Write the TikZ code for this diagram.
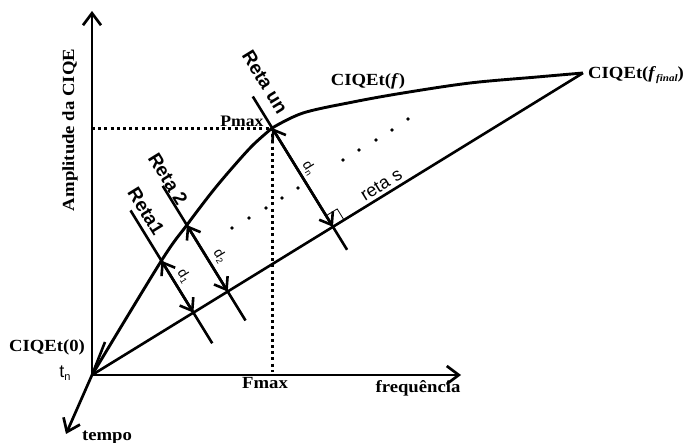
\documentclass[tikz,border=0pt]{standalone}
\usepackage{fontspec}
\setmainfont{Liberation Serif}[FakeStretch=1.1]
\setsansfont{Liberation Sans}
\usetikzlibrary{arrows.meta,calc}
\begin{document}
\begin{tikzpicture}[x=1pt,y=-1pt,
  axisline/.style={line width=2.7pt,-{Straight Barb[length=12pt,width=18pt]}},
  curveline/.style={line width=2.9pt,line join=round},
  retaline/.style={line width=2.6pt},
  dimarrow/.style={line width=2.6pt,{Straight Barb[length=11pt,width=16pt]}-{Straight Barb[length=11pt,width=16pt]}},
  guideline/.style={line width=3pt,dash pattern=on 3pt off 3.2pt},
  serlbl/.style={font=\fontsize{17}{20}\selectfont\bfseries,inner sep=0pt},
  retalbl/.style={font=\sffamily\bfseries\fontsize{19}{22}\selectfont,inner sep=0pt,rotate=-58.4},
  dlbl/.style={font=\sffamily\fontsize{14}{16}\selectfont,inner sep=0pt,rotate=-58.4},
  dotmark/.style={fill,circle,inner sep=0pt,minimum size=3.6pt},
]
\useasboundingbox (0,0) rectangle (683,443);

% main points
\coordinate (O) at (92,375);
\coordinate (Ytop) at (92,11);
\coordinate (Xend) at (461,375);
\coordinate (Tend) at (66,434);
\coordinate (Fin) at (583,73);
\coordinate (Barb) at (105,342);

% feet on reta s
\coordinate (S1) at ($(O)!0.2065!(Fin)$);
\coordinate (S2) at ($(O)!0.2764!(Fin)$);
\coordinate (Sn) at ($(O)!0.4907!(Fin)$);

% perpendicular lines
\coordinate (C1)  at ($(S1)!61pt!90:(Fin)$);
\coordinate (R1a) at ($(S1)!120pt!90:(Fin)$);
\coordinate (R1b) at ($(S1)!36pt!-90:(Fin)$);
\coordinate (C2)  at ($(S2)!78pt!90:(Fin)$);
\coordinate (R2a) at ($(S2)!124pt!90:(Fin)$);
\coordinate (R2b) at ($(S2)!34pt!-90:(Fin)$);
\coordinate (Pmax) at ($(Sn)!116pt!90:(Fin)$);
\coordinate (Rna) at ($(Sn)!153pt!90:(Fin)$);
\coordinate (Rnb) at ($(Sn)!27pt!-90:(Fin)$);

\coordinate (Yp) at (O |- Pmax);
\coordinate (Fx) at ($(Pmax |- O)+(0,-3)$);

% guide lines
\draw[guideline] (Yp) -- (Pmax);
\draw[guideline] (Pmax) -- (Fx);

% axes
\draw[axisline] (O) -- (Ytop);
\draw[axisline] (O) -- (Xend);
\draw[axisline] (O) -- (Tend);

% reta s
\draw[retaline] (O) -- (Fin) node[sloped,pos=0.6,above=3pt,inner sep=0pt,anchor=south,font=\sffamily\fontsize{18}{20}\selectfont] (lretas) {reta s};

% curve CIQEt(f)
\draw[curveline] plot[smooth,tension=0.55] coordinates {(O) (C1) (C2) (212,192) (233,167) (253,145) (Pmax)};
\draw[curveline] plot[smooth,tension=0.55] coordinates {(Pmax) (303,113) (353,102) (403,93) (470,83) (537,77) (Fin)};
\draw[retaline] (O) -- (Barb);

% perpendicular retas
\draw[retaline] (R1a) -- (R1b);
\draw[retaline] (R2a) -- (R2b);
\draw[retaline] (Rna) -- (Rnb);
\draw[dimarrow] (C1) -- (S1);
\draw[dimarrow] (C2) -- (S2);
\draw[dimarrow] (Pmax) -- (Sn);

% right angle mark
\coordinate (Q1) at ($(Sn)!13pt!(Fin)$);
\coordinate (Q3) at ($(Sn)!13pt!90:(Fin)$);
\coordinate (Q2) at ($(Q1)+(Q3)-(Sn)$);
\draw[line width=0.8pt] (Q1) -- (Q2) -- (Q3);

% dots
\foreach \p [count=\i] in {(232,228),(249,218),(266,208),(282,198),(298,188),(343,160),(359,150),(376,140),(392,130),(408,119)}
  \node[dotmark] (dot\i) at \p {};

% labels
\node[serlbl,rotate=90,anchor=base] (lamp) at (74,130) {Amplitude da CIQE};
\node[serlbl,anchor=base] (l0) at (47,352) {CIQEt(0)};
\node[font=\sffamily\fontsize{18}{20}\selectfont,anchor=base,inner sep=0pt] (ltn) at (65,378) {t\raisebox{-3pt}{\fontsize{11}{12}\selectfont n}};
\node[serlbl,anchor=base] (ltempo) at (107,441) {tempo};
\node[serlbl,anchor=base] (lfmax) at (265,389) {Fmax};
\node[serlbl,anchor=base] (lfreq) at (418,393) {frequência};
\node[serlbl,font=\fontsize{16}{18}\selectfont\bfseries,anchor=base] (lpmax) at (242,127) {Pmax};
\node[serlbl,anchor=base] (lcf) at (368,86) {CIQEt(\textit{f})};
\node[serlbl,anchor=base west] (lcff) at (588,79) {CIQEt(\textit{f}\raisebox{-3pt}{\fontsize{10}{12}\selectfont\bfseries\itshape final})};

\node[retalbl] (lr1) at (146,211) {Reta1};
\node[retalbl] (lr2) at (168,179) {Reta 2};
\node[retalbl] (lrn) at (265,82) {Reta un};

\node[dlbl] (ld1) at (184,276) {d\raisebox{-2pt}{\fontsize{9}{10}\selectfont 1}};
\node[dlbl] (ld2) at (220,256) {d\raisebox{-2pt}{\fontsize{9}{10}\selectfont 2}};
\node[dlbl] (ldn) at (309,168) {d\raisebox{-2pt}{\fontsize{9}{10}\selectfont n}};
\end{tikzpicture}
\end{document}
